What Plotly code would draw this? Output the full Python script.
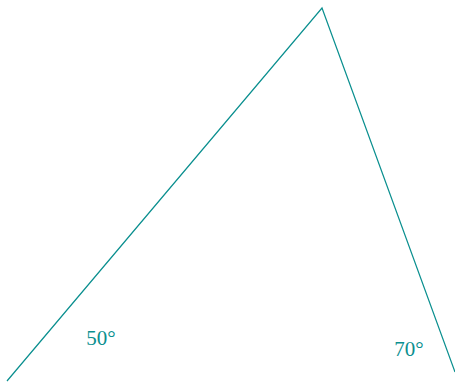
import plotly.graph_objects as go

# polyline vertices (chart units)
path_x = [7, 322, 455]
path_y = [2, 375, 11]

label_text = ["50°", "70°"]
label_x = [101, 409]
label_y = [43, 32]

color = "#0a8f8f"

fig = go.Figure()
fig.add_trace(go.Scatter(x=path_x, y=path_y, mode="lines",
                         line=dict(color=color, width=1.2), hoverinfo="skip"))
fig.add_trace(go.Scatter(x=label_x, y=label_y, mode="text", text=label_text,
                         textfont=dict(family="Liberation Serif", size=21, color=color),
                         hoverinfo="skip"))
fig.update_layout(width=455, height=383, margin=dict(l=0, r=0, t=0, b=0),
                  paper_bgcolor="white", plot_bgcolor="white", showlegend=False)
fig.update_xaxes(range=[0, 455], visible=False)
fig.update_yaxes(range=[0, 383], visible=False)
fig.write_html("out.html", config={"displayModeBar": False},
               post_script="document.body.style.margin='0';document.body.style.overflow='hidden';")
